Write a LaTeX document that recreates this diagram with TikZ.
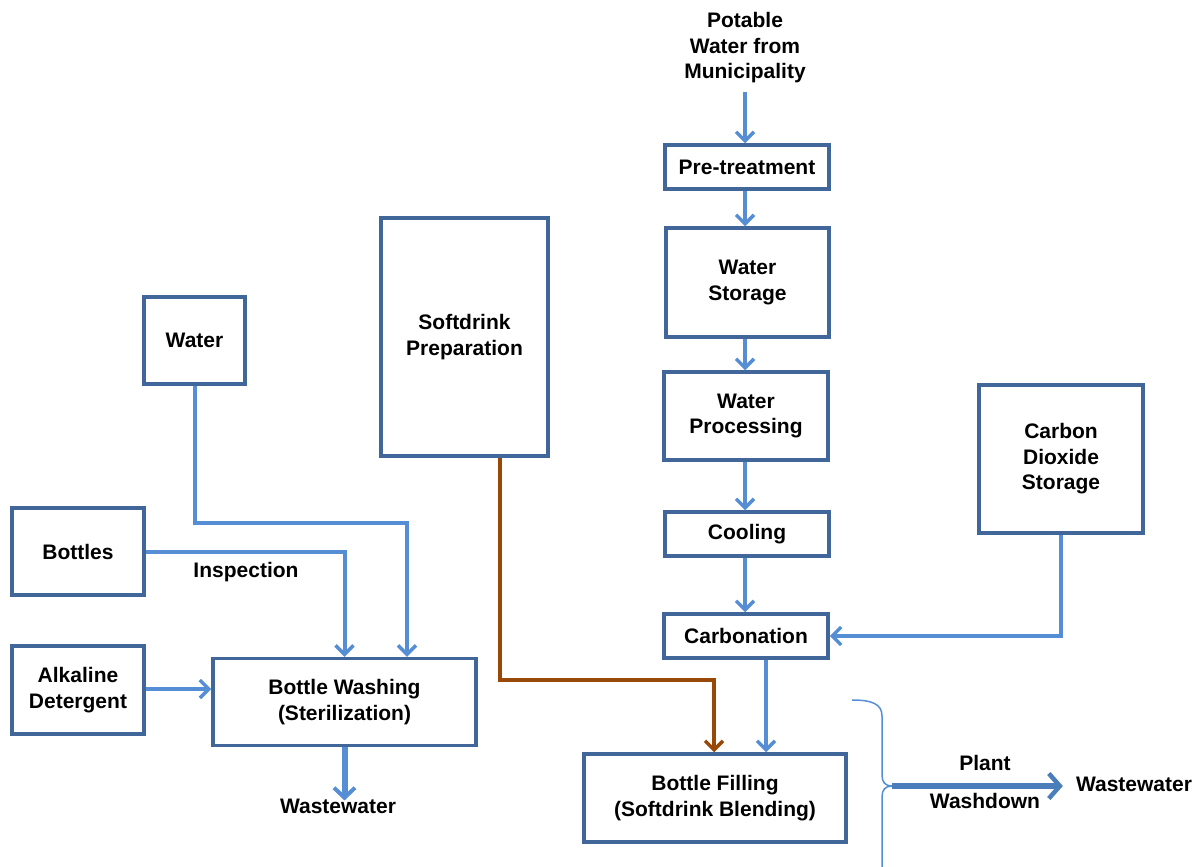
\documentclass[tikz,border=0pt]{standalone}
\usepackage{fontspec}
\setmainfont{Liberation Sans}
\usetikzlibrary{arrows.meta}
\definecolor{boxblue}{HTML}{41679A}
\definecolor{arrowblue}{HTML}{558ED5}
\definecolor{brownline}{HTML}{984807}
\definecolor{bigblue}{HTML}{4A7EBB}
\tikzset{
  box/.style={draw=boxblue, line width=3.5pt, fill=white, align=center, inner sep=0pt,
    font=\fontsize{21}{25.5}\selectfont\bfseries},
  lbl/.style={align=center, inner sep=1pt, font=\fontsize{21}{25.5}\selectfont\bfseries},
  tip/.style={-{Straight Barb[length=9pt,width=18pt,line width=3.5pt]}},
  flow/.style={draw=arrowblue, line width=4pt, tip},
  brownflow/.style={draw=brownline, line width=4pt, tip},
  bracepath/.style={draw=arrowblue, line width=1.5pt},
}
\begin{document}
\begin{tikzpicture}[x=1pt,y=-1pt]
\useasboundingbox (0,0) rectangle (1202,867);
% nodes
\node[lbl] (pot) at (745,48) {Potable\\Water from\\Municipality};
\node[box, minimum width=164pt, minimum height=44pt] (pre) at (747,167) {Pre-treatment};
\node[box, minimum width=163pt, minimum height=109pt] (stor) at (747.5,282.5) {Water\\Storage};
\node[box, minimum width=164pt, minimum height=88pt] (proc) at (746,416) {Water\\Processing};
\node[box, minimum width=164pt, minimum height=44pt] (cool) at (747,534) {Cooling};
\node[box, minimum width=164pt, minimum height=44pt] (carb) at (746,636) {Carbonation};
\node[box, minimum width=164pt, minimum height=148pt] (co2) at (1061,459) {Carbon\\Dioxide\\Storage};
\node[box, minimum width=167pt, minimum height=238pt] (soft) at (464.5,337) {Softdrink\\Preparation};
\node[box, minimum width=101pt, minimum height=87pt] (water) at (194.5,340.5) {Water};
\node[box, minimum width=132pt, minimum height=87pt] (bottles) at (78,551.5) {Bottles};
\node[box, minimum width=132pt, minimum height=88pt] (alk) at (78,690) {Alkaline\\Detergent};
\node[box, minimum width=263pt, minimum height=87pt] (wash) at (344.5,702) {Bottle Washing\\(Sterilization)};
\node[box, minimum width=262pt, minimum height=88pt] (fill) at (715,798) {Bottle Filling\\(Softdrink Blending)};
\node[lbl] (insp) at (246,572) {Inspection};
\node[lbl] (ww1) at (338,806) {Wastewater};
\node[lbl] (plant) at (985,763) {Plant};
\node[lbl] (washd) at (985,801) {Washdown};
\node[lbl] (ww2) at (1134,784) {Wastewater};
\coordinate (potend) at (745,92);
\coordinate (bt) at (892,786);
% connectors
\draw[flow] (potend) -- (pre.north -| potend);
\draw[flow] (pre.south -| potend) -- (stor.north -| potend);
\draw[flow] (stor.south -| potend) -- (proc.north -| potend);
\draw[flow] (proc.south -| potend) -- (cool.north -| potend);
\draw[flow] (cool.south -| potend) -- (carb.north -| potend);
\draw[flow] (co2.south) |- (carb.east);
\draw[flow] ([xshift=20pt]carb.south) -- ([xshift=51pt]fill.north);
\draw[brownflow] ([xshift=35.5pt]soft.south) -- ++(0,222) -| ([xshift=-1pt]fill.north);
\draw[flow] (water.south) -- ++(0,137) -| ([xshift=62.5pt]wash.north);
\draw[flow] (bottles.east) -| (wash.north);
\draw[flow] ([yshift=1pt]alk.east) -- ([yshift=1pt]alk.east -| wash.west);
\draw[flow, line width=6pt, -{Straight Barb[length=10pt,width=21pt,line width=4pt]}] (wash.south) -- ([yshift=-3pt]wash.south |- ww1.north);
% brace
\draw[bracepath] (852,700) .. controls (872,700) and (882,704) .. (882,716) -- (882,775)
  .. controls (882,782) and (885,786) .. (bt) .. controls (885,786) and (882,790) .. (882,797) -- (882,867);
\draw[draw=bigblue, line width=6.5pt, -{Straight Barb[length=11pt,width=25pt,line width=4.5pt]}] (bt) -- ([xshift=-12pt]bt -| ww2.west);
\end{tikzpicture}
\end{document}
